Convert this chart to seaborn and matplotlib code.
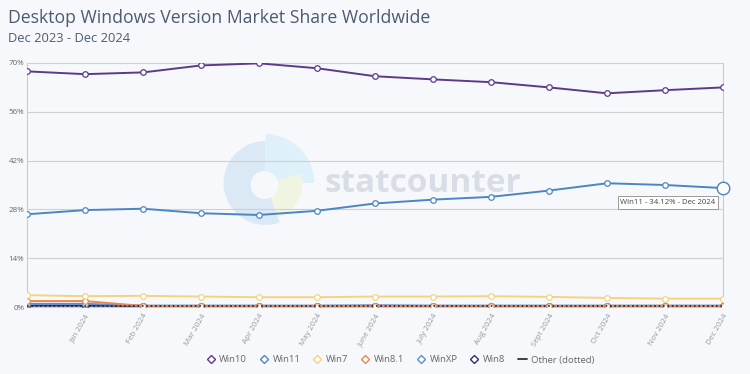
import matplotlib
matplotlib.use("Agg")
import matplotlib.pyplot as plt
from matplotlib.patches import Wedge, Circle
from matplotlib.lines import Line2D
import seaborn as sns
import pandas as pd
import numpy as np

months = ["Dec 2023", "Jan 2024", "Feb 2024", "Mar 2024", "Apr 2024", "May 2024",
          "June 2024", "July 2024", "Aug 2024", "Sept 2024", "Oct 2024", "Nov 2024", "Dec 2024"]
win10 = [67.6, 66.8, 67.3, 69.3, 69.9, 68.5, 66.2, 65.3, 64.5, 63.0, 61.3, 62.2, 63.0]
win11 = [26.6, 27.8, 28.2, 26.9, 26.4, 27.6, 29.7, 30.8, 31.6, 33.4, 35.5, 35.0, 34.12]
win7 = [3.4, 3.1, 3.2, 3.0, 2.8, 2.8, 3.0, 3.0, 3.1, 2.9, 2.6, 2.4, 2.4]
win81 = [1.7, 1.7, 0.3, 0.3, 0.3, 0.3, 0.3, 0.3, 0.3, 0.3, 0.3, 0.3, 0.3]
winxp = [0.9, 0.9, 0.4, 0.4, 0.4, 0.4, 0.4, 0.4, 0.4, 0.4, 0.4, 0.4, 0.4]
win8 = [0.4, 0.4, 0.3, 0.3, 0.3, 0.3, 0.4, 0.3, 0.3, 0.3, 0.3, 0.3, 0.3]
other = [0.2, 0.2, 0.2, 0.2, 0.2, 0.2, 0.2, 0.2, 0.2, 0.2, 0.2, 0.2, 0.2]

series_names = ["Win10", "Win11", "Win7", "Win8.1", "WinXP", "Win8", "Other (dotted)"]
series_vals = [win10, win11, win7, win81, winxp, win8, other]
colors = {"Win10": "#5b3a8e", "Win11": "#4a86c5", "Win7": "#f3d47e", "Win8.1": "#e8874e",
          "WinXP": "#5d8fd0", "Win8": "#2c2f6b", "Other (dotted)": "#222222"}
yticks = [0, 14, 28, 42, 56, 70]

rows = []
for name, vals in zip(series_names, series_vals):
    for i, v in enumerate(vals):
        rows.append({"series": name, "idx": i, "month": months[i], "value": v})
df = pd.DataFrame(rows)

sns.set_theme(style="white")
plt.rcParams['font.family'] = ['Open Sans', 'DejaVu Sans']

bg = "#f7f8fb"
fig = plt.figure(figsize=(7.5, 3.74), dpi=100, facecolor=bg)

# watermark logo
lax = fig.add_axes([265.5/750 - 0.08, 1 - 183/374 - 0.16, 0.16, 0.32], zorder=0)
lax.set_xlim(-60, 60); lax.set_ylim(-60, 60); lax.set_aspect('equal'); lax.axis('off')
lax.add_patch(Wedge((0, 0), 42, 90, 290, facecolor="#dbe9f6", edgecolor="none"))
lax.add_patch(Wedge((0, 0), 49, 0, 90, facecolor="#def0fa", edgecolor="none"))
lax.add_patch(Wedge((0, 0), 37, -70, 15, facecolor="#f0f5e1", edgecolor="none"))
lax.add_patch(Circle((-1, -2), 14, facecolor=bg, edgecolor="none"))

ax = fig.add_axes([27/750, 1 - 307/374, (723 - 27)/750, (307 - 63)/374], zorder=1)
ax.set_facecolor("none")
fig.text(325/750, 1 - 184/374, "statcounter", fontsize=24, fontweight='bold',
         color="#d8dde6", ha='left', va='center', zorder=0.5)

order = ["Other (dotted)", "Win8", "WinXP", "Win8.1", "Win7", "Win11", "Win10"]
for name in order:
    sub = df[df.series == name]
    if name == "Other (dotted)":
        sns.lineplot(data=sub, x="idx", y="value", ax=ax, color=colors[name],
                     linestyle=":", linewidth=1.2, legend=False, zorder=5)
    else:
        sns.lineplot(data=sub, x="idx", y="value", ax=ax, color=colors[name],
                     linewidth=1.4, marker="o", markersize=4, markerfacecolor="white",
                     markeredgecolor=colors[name], markeredgewidth=0.9, legend=False,
                     zorder=4 if name not in ("Win10", "Win11") else 6)

# highlighted last Win11 point
ax.plot([12], [win11[-1]], marker="o", markersize=9, markerfacecolor="white",
        markeredgecolor=colors["Win11"], markeredgewidth=1.0, zorder=7, clip_on=False)
ax.annotate(f"Win11 - {win11[-1]:.2f}% - {months[-1]}", xy=(12, win11[-1]),
            xytext=(-74, -8), textcoords="offset points", fontsize=5.6, color="#444444",
            ha="left", va="top",
            bbox=dict(boxstyle="square,pad=0.35", facecolor="white", edgecolor="#999999", linewidth=0.7),
            zorder=8, annotation_clip=False)

ax.set_xlim(0, 12)
ax.set_ylim(0, 70)
ax.set_yticks(yticks)
ax.set_yticklabels([f"{t}%" for t in yticks], fontsize=5.8, color="#666666")
ax.set_xticks(range(1, 13))
ax.set_xticklabels(months[1:], rotation=60, ha="right", rotation_mode="anchor",
                   fontsize=5.8, color="#999999")
ax.tick_params(axis='both', length=0, pad=2)
ax.tick_params(axis='x', pad=4)
ax.set_xlabel(""); ax.set_ylabel("")
ax.grid(axis='y', color="#d0d0d0", linewidth=0.8)
for s in ["left", "right", "top", "bottom"]:
    ax.spines[s].set_visible(True)
    ax.spines[s].set_color("#cccccc")
    ax.spines[s].set_linewidth(0.8)
ax.spines["top"].set_visible(False)
ax.set_axisbelow(True)

fig.text(8/750, 1 - 18/374, "Desktop Windows Version Market Share Worldwide", fontsize=12.7,
         color="#4b5b70", ha='left', va='center')
fig.text(8/750, 1 - 38/374, "Dec 2023 - Dec 2024", fontsize=9.3, color="#4b5b70",
         ha='left', va='center')

handles = []
for name in series_names:
    if name == "Other (dotted)":
        handles.append(Line2D([], [], color="#333333", linewidth=1.3))
    else:
        handles.append(Line2D([], [], linestyle="none", marker="D", markersize=4,
                              markerfacecolor="white", markeredgecolor=colors[name],
                              markeredgewidth=1.0))
leg = fig.legend(handles, series_names, loc="center", bbox_to_anchor=(400/750, 1 - 360/374),
                 ncol=7, frameon=False, fontsize=6.8, handlelength=1.0, handletextpad=0.4,
                 columnspacing=1.3, labelcolor="#666666")

fig.savefig("out.png", dpi=100, facecolor=bg)
